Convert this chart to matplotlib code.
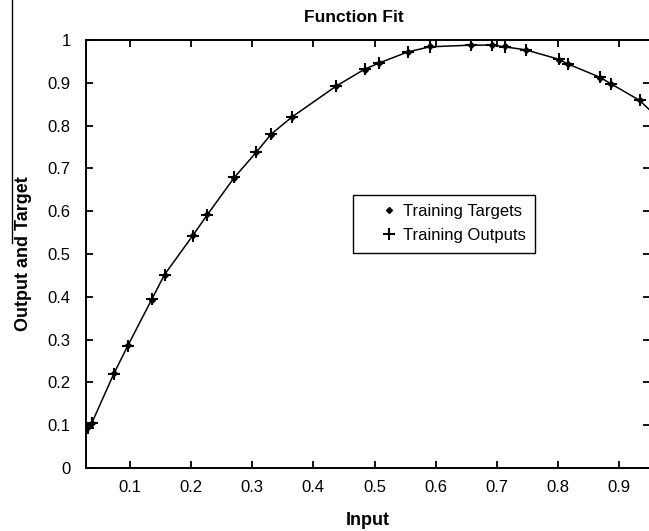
import matplotlib
matplotlib.use("Agg")
import matplotlib.pyplot as plt
from matplotlib.lines import Line2D
import numpy as np

plt.rcParams['font.family'] = ['Liberation Sans', 'DejaVu Sans']

# training inputs and network outputs / targets
inputs = [0.032, 0.038, 0.074, 0.097, 0.136, 0.157, 0.203, 0.227, 0.271, 0.307,
          0.331, 0.365, 0.437, 0.484, 0.507, 0.554, 0.590, 0.658, 0.692, 0.713,
          0.747, 0.801, 0.816, 0.868, 0.887, 0.933, 0.965]
outputs = [0.094, 0.105, 0.220, 0.286, 0.394, 0.452, 0.543, 0.592, 0.679, 0.738,
           0.780, 0.820, 0.892, 0.932, 0.946, 0.972, 0.984, 0.988, 0.988, 0.984,
           0.977, 0.955, 0.944, 0.913, 0.897, 0.859, 0.815]
targets = [0.096, 0.104, 0.221, 0.287, 0.393, 0.451, 0.544, 0.593, 0.678, 0.739,
           0.779, 0.821, 0.893, 0.931, 0.947, 0.971, 0.985, 0.989, 0.989, 0.985,
           0.976, 0.954, 0.945, 0.912, 0.898, 0.860, 0.814]

fig = plt.figure(figsize=(6.49, 5.31), dpi=100)
ax = fig.add_axes([86 / 649, 1 - 468 / 531, 564 / 649, 428 / 531])

ax.plot(inputs, outputs, color='black', lw=1.1, zorder=2)
ax.plot(inputs, targets, linestyle='none', marker='D', ms=3, color='black',
        label='Training Targets', zorder=3)
ax.plot(inputs, outputs, linestyle='none', marker='+', ms=9, mew=1.5,
        color='black', label='Training Outputs', zorder=4)

ax.set_xlim(0.0286, 0.95)
ax.set_ylim(0, 1)
ax.set_xticks(np.arange(0.1, 0.95, 0.1))
ax.set_xticklabels(['0.1', '0.2', '0.3', '0.4', '0.5', '0.6', '0.7', '0.8', '0.9'])
ax.set_yticks(np.arange(0, 1.05, 0.1))
ax.set_yticklabels(['0', '0.1', '0.2', '0.3', '0.4', '0.5', '0.6', '0.7', '0.8', '0.9', '1'])
ax.tick_params(direction='in', length=5, width=1.3, labelsize=12,
               top=True, right=True)
ax.tick_params(axis='x', pad=9)
ax.tick_params(axis='y', pad=11)
for s in ax.spines.values():
    s.set_linewidth(1.4)

ax.set_title('Function Fit', fontsize=12.5, fontweight='bold',
             x=(354 - 86) / 564, pad=13)
ax.set_xlabel('Input', fontsize=13, fontweight='bold', labelpad=12)
ax.set_ylabel('Output and Target', fontsize=13, fontweight='bold', labelpad=11)

leg = ax.legend(loc='center', bbox_to_anchor=(0.635, 0.571), fontsize=12,
                fancybox=False, framealpha=1, edgecolor='black',
                handlelength=3.1, handletextpad=-0.7, borderpad=0.58,
                labelspacing=0.53)
leg.get_frame().set_linewidth(1.0)

# dark scan line on the left edge of the original
fig.add_artist(Line2D([12 / 649, 12 / 649], [1, 1 - 243 / 531],
                      color='black', lw=1.0, transform=fig.transFigure))

fig.savefig('out.png', dpi=100)
